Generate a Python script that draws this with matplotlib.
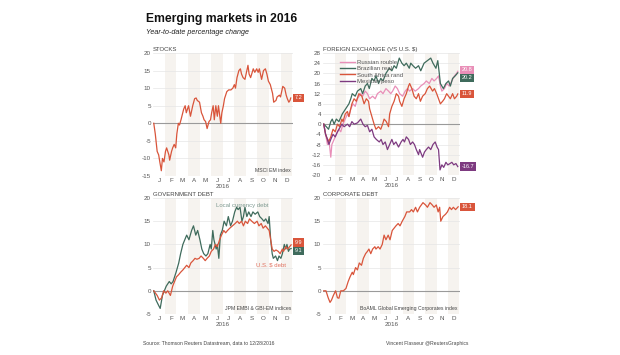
import matplotlib
matplotlib.use("Agg")
import matplotlib.pyplot as plt
from matplotlib.lines import Line2D

plt.rcParams['font.family'] = ['Liberation Sans', 'DejaVu Sans']

# ---------------- data (day of year 2016, % change) ----------------
months = ['J', 'F', 'M', 'A', 'M', 'J', 'J', 'A', 'S', 'O', 'N', 'D']
month_starts = [0, 31, 60, 91, 121, 152, 182, 213, 244, 274, 305, 335, 366]

stocks_day = [0, 4, 9, 13, 16, 20, 23, 27, 31, 34, 40, 42, 47, 50, 54, 58, 61, 65, 68, 72,
              79, 83, 86, 92, 97, 103, 108, 112, 115, 121, 126, 130, 133, 137, 141, 146, 150,
              153, 157, 160, 164, 168, 171, 177, 180, 184, 187, 193, 198, 204, 209, 213, 216,
              220, 225, 229, 232, 236, 241, 249, 252, 256, 263, 267, 272, 276, 279, 285, 290,
              295, 299, 303, 308, 314, 317, 323, 326, 332, 335, 341, 346, 350, 353, 357, 360, 362]
stocks_val = [0, -3, -8, -9, -11, -13.5, -10, -11, -8, -7, -9, -10.5, -8, -7, -6, -7, -3, 0, -0.5, 1,
              4, 5, 3, 5, 2, 5, 7, 7.2, 6.5, 6, 3, 2, 1, 0.5, -1.5, 0.5, 1,
              3, 5, 1, 5, 2, 5, 0, 3, 5, 7, 9, 9.5, 9.5, 10, 11, 10,
              13, 15, 15.5, 14, 13, 12.5, 16.5, 14, 13, 15.5, 14.5, 15.5, 14.5, 15.5, 12.5, 15,
              15.5, 14, 12, 11, 8.5, 6, 6.5, 7.5, 8, 7.5, 10.5, 10, 8, 7, 6, 6.5, 7.2]

rouble_day = [0, 5, 10, 14, 19, 22, 28, 34, 41, 46, 52, 58, 64, 68, 73, 79, 85, 91, 100, 105, 112,
              118, 124, 132, 139, 145, 154, 160, 168, 175, 181, 186, 193, 199, 205, 213, 220, 226,
              232, 240, 247, 256, 262, 271, 277, 285, 292, 298, 305, 310, 315, 319, 326, 332, 339,
              346, 353, 359, 362]
rouble_val = [0, -4, -8, -6, -13, -8, -6, -4, -2, -3, 0, 2, 4, 3, 6, 8, 7, 10, 12, 11, 13,
              12, 10, 11, 10, 12, 13, 12, 14, 13, 12, 13, 15, 14, 12, 11, 13, 14,
              13, 14, 13, 14, 15, 16, 17, 16, 18, 17, 18, 19, 15, 13, 14, 16, 15,
              17, 19, 20, 20.8]

real_day = [0, 7, 13, 19, 23, 28, 34, 41, 50, 59, 68, 73, 77, 85, 91, 100, 105, 112, 118, 123,
            130, 136, 141, 148, 154, 160, 168, 177, 184, 190, 196, 204, 211, 217, 223, 231, 235,
            241, 248, 256, 262, 271, 280, 289, 295, 303, 308, 312, 315, 323, 330, 337, 342, 348,
            355, 362]
real_val = [0, -1, -2, 1, 2, 0, 2, 1, 4, 6, 8, 10, 12, 11, 13, 14, 12, 15, 16, 14,
            18, 17, 19, 16, 18, 17, 20, 22, 21, 23, 22, 26, 24, 23, 24, 22, 24,
            23, 22, 23, 21, 24, 25, 26, 24, 22, 25, 20, 16, 14, 16, 17, 15, 18,
            19, 20.2]

rand_day = [0, 5, 13, 19, 25, 31, 37, 43, 49, 52, 58, 64, 68, 76, 82, 88, 95, 103, 109, 115,
            121, 124, 130, 136, 141, 148, 154, 159, 163, 169, 175, 178, 184, 190, 196, 202, 205,
            211, 217, 223, 229, 232, 238, 244, 250, 256, 261, 267, 274, 280, 286, 294, 299, 305,
            310, 315, 321, 326, 332, 337, 342, 348, 353, 359, 362]
rand_val = [0, -4, -7, -5, -2, -3, 0, -1, 2, 1, 4, 5, 3, 8, 10, 9, 12, 11, 8, 10,
            9, 6, 3, 0, -2, -1, -2, 0, 2, 1, -1, 4, 7, 9, 12, 11, 9,
            7, 10, 12, 15, 16, 14, 11, 10, 12, 9, 11, 12, 14, 15, 13, 14, 12,
            10, 8, 9, 10, 12, 11, 10, 12, 10, 11, 11.9]

peso_day = [0, 5, 10, 14, 19, 25, 31, 37, 41, 49, 55, 64, 70, 76, 82, 91, 100, 106, 112, 118,
            124, 130, 136, 142, 150, 155, 160, 166, 172, 178, 184, 189, 195, 202, 209, 214, 218,
            223, 229, 234, 240, 245, 250, 256, 259, 267, 272, 277, 283, 289, 295, 301, 306, 310,
            314, 319, 324, 330, 335, 341, 346, 351, 357, 362]
peso_val = [0, -4, -6, -8, -6, -4, -5, -3, -2, 0, -1, 0, -1, 1, 0, 0.5, 2, 0, -1, -0.5,
            -3, -2, -5, -6, -7, -6, -8, -7, -10, -8, -6, -8, -7, -9, -7, -6, -7,
            -5, -6, -8, -7, -8, -10, -12, -10, -13, -11, -10, -9, -10, -8, -7, -9, -10,
            -18, -16, -17, -15, -16, -15.5, -15, -16, -15.5, -16.7]

local_day = [0, 6, 12, 17, 23, 28, 33, 41, 46, 51, 59, 66, 71, 77, 82, 87, 93, 100, 105, 111,
             116, 122, 127, 132, 138, 143, 149, 152, 156, 159, 165, 168, 172, 176, 181, 186, 192,
             197, 203, 208, 214, 219, 223, 228, 233, 237, 241, 246, 251, 257, 262, 268, 275, 280,
             286, 291, 296, 302, 305, 309, 313, 316, 322, 327, 331, 336, 340, 345, 349, 352, 356,
             359, 363]
local_val = [0, -2, -3, -3.8, -1, 0, 1, 2, 1.5, 2, 4, 6, 8, 10, 11, 12, 11, 13, 14, 12,
             13, 11, 9, 8, 7.5, 8, 10, 9, 13, 11, 9, 10, 7, 12, 13, 15, 14,
             16, 14, 15, 17, 18, 17.5, 18, 15, 16, 18, 16, 17, 16, 17, 16.5, 17, 16,
             15.5, 15, 15.5, 14.5, 16, 11, 8, 7, 7.5, 6.5, 7.5, 7, 8, 10, 9, 10, 8.5,
             9, 9.1]

usd_day = [0, 9, 15, 21, 26, 32, 37, 44, 50, 55, 60, 66, 71, 77, 82, 87, 93, 98, 104, 109,
           114, 120, 125, 131, 136, 141, 147, 152, 158, 163, 168, 174, 179, 185, 190, 195, 201,
           208, 215, 221, 226, 232, 237, 242, 248, 253, 259, 266, 273, 278, 284, 289, 295, 300,
           305, 309, 313, 318, 323, 329, 334, 340, 343, 349, 354, 359, 363]
usd_val = [0, -1, -2, -1.5, 0, -0.5, 0, -1, 1, 2, 3, 3.5, 4, 4.5, 5, 5.5, 5, 6, 6.5, 7,
           6.8, 7, 7.5, 7, 6.5, 7, 7.5, 8.5, 9, 10, 9.5, 11, 12, 13, 12.5, 13, 13.5,
           14, 14.5, 15, 14.5, 15, 14, 15, 14.5, 15.5, 15, 14.5, 15, 14, 14.5, 13.5, 14, 13.5,
           13, 11, 9, 8.5, 8.8, 8.5, 8, 9, 8.5, 9.5, 9, 9.5, 9.9]

corp_day = [0, 6, 12, 17, 21, 26, 32, 37, 41, 46, 53, 60, 66, 71, 77, 80, 86, 91, 96, 102,
            107, 113, 118, 122, 127, 132, 138, 141, 147, 152, 158, 163, 168, 174, 179, 185, 190,
            195, 201, 206, 212, 219, 224, 232, 237, 242, 248, 253, 259, 268, 275, 280, 287, 293,
            298, 304, 309, 313, 316, 322, 329, 334, 340, 345, 350, 356, 363]
corp_val = [0, 0, -1.5, -2.5, -2, -1, 0, -1.5, -1.6, 0, 0, 0.5, 2, 3, 4, 3.5, 5, 4.5, 6, 5.5,
            7, 8, 8.5, 9, 8, 9, 9.5, 9, 9.5, 9, 10, 12, 11, 12, 11, 13, 13.5,
            14, 14.5, 14, 15, 16, 17, 17, 17.5, 17, 18, 17, 18, 19, 18.5, 18, 19, 18.5,
            18, 18.5, 17, 18, 15, 16, 16.5, 17, 18, 17.5, 18, 17.5, 18.1]

# ---------------- styling ----------------
RED = '#d9553b'
GREEN = '#3f6b5c'
PINK = '#e98fb8'
PURPLE = '#7d3a80'
GREY_TXT = '#555555'
BAND = '#f6f3ef'

fig = plt.figure(figsize=(6.2, 3.55), dpi=100)
W, H = 620.0, 355.0


def make_ax(left, top, right, bottom):
    return fig.add_axes([left / W, 1 - bottom / H, (right - left) / W, (bottom - top) / H])


def style(ax, ylim, yticks, title):
    ax.set_xlim(-2, 368)
    ax.set_ylim(*ylim)
    for i in range(1, 12, 2):
        ax.axvspan(month_starts[i], month_starts[i + 1], color=BAND, lw=0, zorder=0)
    for t in yticks:
        ax.axhline(t, color='#e6e6e6', lw=0.5, zorder=1)
    ax.axhline(0, color='#9a9a9a', lw=0.8, zorder=1.5)
    for s in ax.spines.values():
        s.set_visible(False)
    ax.set_yticks(yticks)
    ax.set_yticklabels([str(t) for t in yticks])
    centers = [(month_starts[i] + month_starts[i + 1]) / 2 for i in range(12)]
    ax.set_xticks(centers)
    ax.set_xticklabels(months)
    ax.tick_params(length=0, labelsize=4.5, colors=GREY_TXT, pad=1.5)
    ax.set_xlabel('2016', fontsize=4.5, color=GREY_TXT, labelpad=0.5)
    ax.text(0, 1.006, title, transform=ax.transAxes, fontsize=4.3, color='#444444',
            ha='left', va='bottom')


def value_label(ax, y, text, color, dy=0.0):
    ax.annotate(text, xy=(1.015, y + dy), xycoords=('axes fraction', 'data'),
                fontsize=4.0, color='white', ha='left', va='center',
                bbox=dict(boxstyle='square,pad=0.3', fc=color, ec='none'),
                annotation_clip=False)


# Stocks
ax1 = make_ax(153, 53, 293, 176)
style(ax1, (-15, 20), [-15, -10, -5, 0, 5, 10, 15, 20], 'STOCKS')
ax1.plot(stocks_day, stocks_val, color=RED, lw=0.9, zorder=3)
value_label(ax1, stocks_val[-1], f'{stocks_val[-1]:.1f}', RED)
ax1.text(0.985, 0.025, 'MSCI EM index', transform=ax1.transAxes, fontsize=3.7,
         color='#444444', ha='right', va='bottom')

# FX
ax2 = make_ax(323, 53, 460, 175)
style(ax2, (-20, 28), list(range(-20, 29, 4)), 'FOREIGN EXCHANGE (VS U.S. $)')
ax2.plot(rouble_day, rouble_val, color=PINK, lw=0.9, zorder=3)
ax2.plot(real_day, real_val, color=GREEN, lw=0.9, zorder=3)
ax2.plot(rand_day, rand_val, color=RED, lw=0.9, zorder=3)
ax2.plot(peso_day, peso_val, color=PURPLE, lw=0.9, zorder=3)
handles = [Line2D([], [], color=c, lw=1.0) for c in (PINK, GREEN, RED, PURPLE)]
leg = ax2.legend(handles, ['Russian rouble', 'Brazilian real', 'South Africa rand', 'Mexican peso'],
                 loc='upper left', bbox_to_anchor=(0.09, 0.98), frameon=False, fontsize=4.3,
                 handlelength=2.6, handletextpad=0.4, labelspacing=0.2, borderpad=0.2)
for t in leg.get_texts():
    t.set_color(GREY_TXT)
value_label(ax2, rouble_val[-1], f'{rouble_val[-1]:.1f}', PINK, dy=0.6)
value_label(ax2, real_val[-1], f'{real_val[-1]:.1f}', GREEN, dy=-2.0)
value_label(ax2, rand_val[-1], f'{rand_val[-1]:.1f}', RED)
value_label(ax2, peso_val[-1], f'{peso_val[-1]:.1f}', PURPLE)

# Government debt
ax3 = make_ax(153, 198, 293, 314)
style(ax3, (-5, 20), [-5, 0, 5, 10, 15, 20], 'GOVERNMENT DEBT')
ax3.plot(local_day, local_val, color=GREEN, lw=0.9, zorder=3)
ax3.plot(usd_day, usd_val, color=RED, lw=0.9, zorder=3)
ax3.text(234, 18.4, 'Local currency debt', fontsize=4.3, color='#7d9990', ha='center', va='center', zorder=2)
ax3.text(311, 5.6, 'U.S. $ debt', fontsize=4.3, color='#e0705e', ha='center', va='center', zorder=4)
value_label(ax3, usd_val[-1], f'{usd_val[-1]:.1f}', RED, dy=0.5)
value_label(ax3, local_val[-1], f'{local_val[-1]:.1f}', GREEN, dy=-0.5)
ax3.text(0.985, 0.025, 'JPM EMBI & GBI-EM indices', transform=ax3.transAxes, fontsize=3.7,
         color='#444444', ha='right', va='bottom')

# Corporate debt
ax4 = make_ax(323, 198, 460, 314)
style(ax4, (-5, 20), [-5, 0, 5, 10, 15, 20], 'CORPORATE DEBT')
ax4.plot(corp_day, corp_val, color=RED, lw=0.9, zorder=3)
value_label(ax4, corp_val[-1], f'{corp_val[-1]:.1f}', RED)
ax4.text(0.985, 0.025, 'BoAML Global Emerging Corporates index', transform=ax4.transAxes,
         fontsize=3.7, color='#444444', ha='right', va='bottom')

# Titles and footer
fig.text(146 / W, 1 - 19 / H, 'Emerging markets in 2016', fontsize=8.7, fontweight='bold',
         color='#111111', ha='left', va='center')
fig.text(146 / W, 1 - 33 / H, 'Year-to-date percentage change', fontsize=5.1, style='italic',
         color='#222222', ha='left', va='center')
fig.text(143 / W, 1 - 343 / H, 'Source: Thomson Reuters Datastream, data to 12/28/2016',
         fontsize=3.6, color='#444444', ha='left', va='center')
fig.text(468 / W, 1 - 343 / H, 'Vincent Flasseur @ReutersGraphics',
         fontsize=3.6, color='#444444', ha='right', va='center')

fig.savefig('out.png', dpi=100, facecolor='white')
